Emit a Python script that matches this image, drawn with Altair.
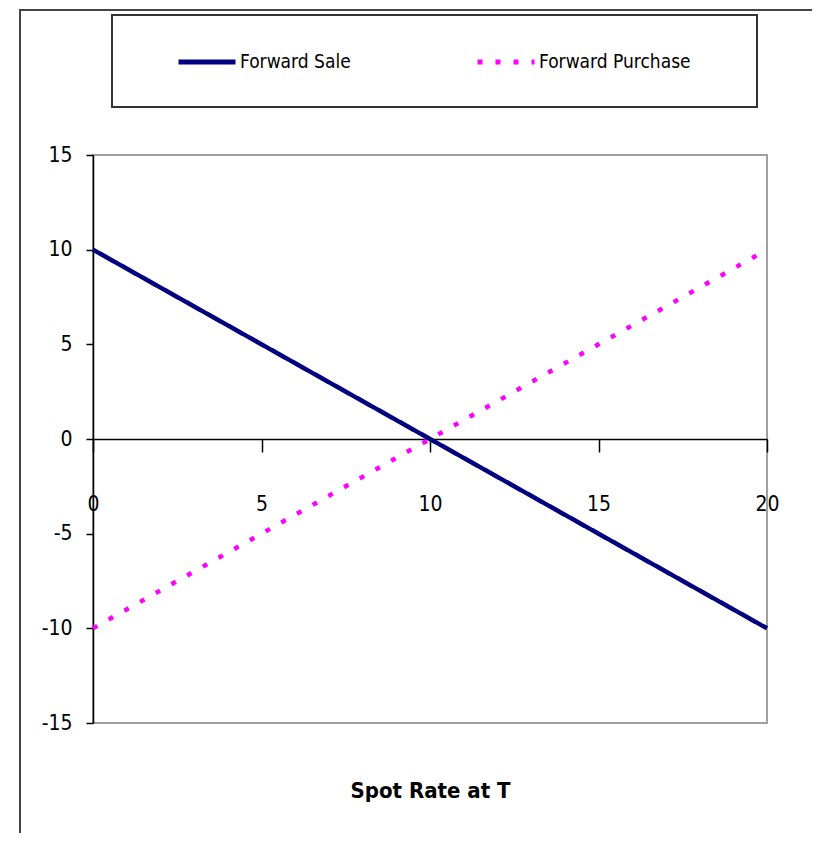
import altair as alt
import pandas as pd

spot = [0, 1, 2, 3, 4, 5, 6, 7, 8, 9, 10, 11, 12, 13, 14, 15, 16, 17, 18, 19, 20]
forward_sale = [10, 9, 8, 7, 6, 5, 4, 3, 2, 1, 0, -1, -2, -3, -4, -5, -6, -7, -8, -9, -10]
forward_purchase = [-10, -9, -8, -7, -6, -5, -4, -3, -2, -1, 0, 1, 2, 3, 4, 5, 6, 7, 8, 9, 10]
series_names = ["Forward Sale", "Forward Purchase"]
x_ticks = [0, 5, 10, 15, 20]
y_ticks = [-15, -10, -5, 0, 5, 10, 15]

rows = []
for name, vals in zip(series_names, [forward_sale, forward_purchase]):
    for s, v in zip(spot, vals):
        rows.append({"spot": s, "value": v, "series": name})
df = pd.DataFrame(rows)

FONT = "DejaVu Sans Condensed, Liberation Sans Narrow, sans-serif"
W, H = 674, 568
HYPHEN = "datum.value < 0 ? '-' + abs(datum.value) : '' + datum.value"

color = alt.Color(
    "series:N",
    scale=alt.Scale(domain=series_names, range=["#000080", "#FF00FF"]),
    legend=alt.Legend(
        title=None,
        orient="none",
        legendX=83,
        legendY=-124,
        direction="horizontal",
        symbolType="stroke",
        symbolSize=3249,
        symbolStrokeWidth=5,
        labelFont=FONT,
        labelFontSize=19,
        labelColor="black",
        labelOffset=2,
        columnPadding=116,
        padding=0,
        labelLimit=400,
    ),
)
dash = alt.StrokeDash(
    "series:N",
    scale=alt.Scale(domain=series_names, range=[[1, 0], [5, 13]]),
    legend=None,
)

x_enc = alt.X(
    "spot:Q",
    scale=alt.Scale(domain=[0, 20], nice=False, zero=False),
    axis=alt.Axis(
        values=x_ticks,
        offset=-284,
        tickSize=13,
        labelPadding=41,
        labelFont=FONT,
        labelFontSize=21,
        labelColor="black",
        labelExpr=HYPHEN,
        tickColor="black",
        domainColor="black",
        domainWidth=1.5,
        tickWidth=1.5,
        grid=False,
        labelFlush=False,
        title="Spot Rate at T",
        titleFont=FONT,
        titleFontSize=22,
        titleFontWeight="bold",
        titleColor="black",
        titleY=351,
        titleBaseline="middle",
    ),
)
y_enc = alt.Y(
    "value:Q",
    scale=alt.Scale(domain=[-15, 15], nice=False),
    axis=alt.Axis(
        values=y_ticks,
        tickSize=7,
        labelPadding=14,
        labelFont=FONT,
        labelFontSize=21,
        labelColor="black",
        labelExpr=HYPHEN,
        tickColor="black",
        domainColor="black",
        domainWidth=1.5,
        tickWidth=1.5,
        grid=False,
        title=None,
    ),
)

base = alt.Chart(df).mark_line(strokeWidth=4.5, strokeCap="butt").encode(
    x=x_enc, y=y_enc, color=color, strokeDash=dash
)
sale = base.transform_filter(alt.datum.series == "Forward Sale")
purchase = base.transform_filter(alt.datum.series == "Forward Purchase")

legend_box = alt.Chart(df).mark_rect(
    fill=None, stroke="#333333", strokeWidth=2
).encode(
    x=alt.value(19), x2=alt.value(664), y=alt.value(-140), y2=alt.value(-48)
)
outer_box = alt.Chart(df).mark_rect(
    fill=None, stroke="#444444", strokeWidth=2
).encode(
    x=alt.value(-73), x2=alt.value(760), y=alt.value(-145), y2=alt.value(1000)
)

chart = alt.layer(outer_box, legend_box, sale, purchase).properties(
    width=W,
    height=H,
    autosize=alt.AutoSizeParams(type="none"),
    padding={"left": 85, "top": 147, "right": 45, "bottom": 110},
    background="white",
).configure_view(stroke="#a0a0a0", strokeWidth=2)

chart.save("out.html", embed_options={"renderer": "svg", "actions": False})
